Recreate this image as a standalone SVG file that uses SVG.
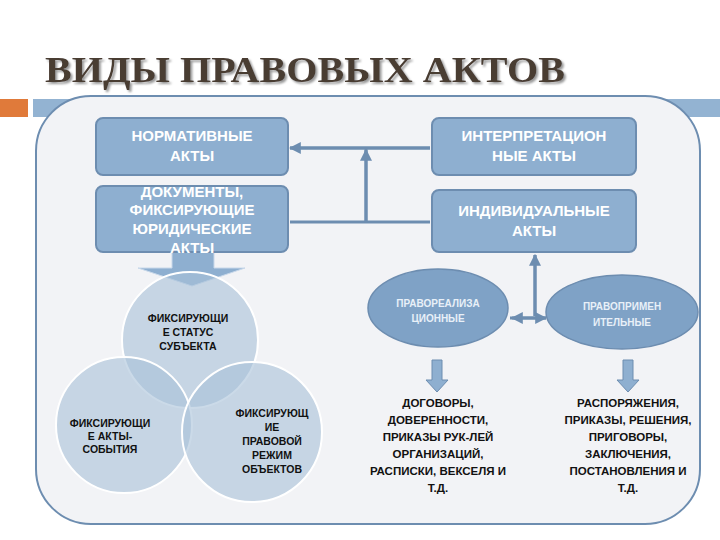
<svg xmlns="http://www.w3.org/2000/svg" width="720" height="540" viewBox="0 0 720 540">
<defs>
<style>
.box{fill:#8eafd0;stroke:#6d8db0;stroke-width:2}
.bt{font-family:"Liberation Sans",Arial,sans-serif;font-weight:bold;font-size:15px;fill:#fff;text-anchor:middle}
.ct{font-family:"Liberation Sans",Arial,sans-serif;font-weight:bold;font-size:10.5px;fill:#111;text-anchor:middle}
.lt{font-family:"Liberation Sans",Arial,sans-serif;font-weight:bold;font-size:11.5px;fill:#111;text-anchor:middle}
.et{font-family:"Liberation Sans",Arial,sans-serif;font-weight:bold;font-size:10px;fill:#e8f0f8;text-anchor:middle}
.circ{fill:#a9c1d9;fill-opacity:0.6;stroke:#fff;stroke-width:2}
.ln{stroke:#6d8db0;stroke-width:3;fill:none}
</style>
<filter id="sh" x="-5%" y="-20%" width="110%" height="140%"><feDropShadow dx="2" dy="2" stdDeviation="0.8" flood-color="#999"/></filter>
<marker id="ah" viewBox="0 0 10 10" refX="9" refY="5" markerWidth="4" markerHeight="4" orient="auto"><path d="M0,0L10,5L0,10z" fill="#6d8db0"/></marker>
</defs>
<text x="45" y="82" font-family="Liberation Serif,serif" font-weight="bold" font-size="36" fill="#4a3c33" textLength="520" lengthAdjust="spacingAndGlyphs" filter="url(#sh)">ВИДЫ ПРАВОВЫХ АКТОВ</text>
<rect x="0" y="99" width="28" height="18" fill="#e07a3a"/>
<rect x="33" y="99" width="687" height="18" fill="#93b3d2"/>
<rect x="36" y="96" width="664" height="428" rx="55" fill="#f2f3f6" stroke="#6d8db0" stroke-width="2"/>
<g id="connectors">
<path class="ln" d="M290,148H430M366,148V223M290,222H430M535,255V316M510,318H546" marker-end="url(#ah)"/>
<path class="ln" d="M430,148H290" marker-end="url(#ah)"/>
<path class="ln" d="M366,223V150" marker-end="url(#ah)"/>
<path class="ln" d="M535,316V255" marker-end="url(#ah)"/>
<path class="ln" d="M546,318H512" marker-end="url(#ah)"/>
<path d="M172,252H214V268H245L192,286L138,268H172Z" fill="#8eafd0" stroke="#c8d8ea"/>
<path d="M432,360H442V380H448L437,392L426,380H432Z" fill="#8eafd0" stroke="#6d8db0"/>
<path d="M623,360H633V380H639L628,392L617,380H623Z" fill="#8eafd0" stroke="#6d8db0"/>
</g>
<g id="n1"><rect class="box" x="96" y="118" width="192" height="57" rx="7"/><text class="bt" x="192" y="141">НОРМАТИВНЫЕ</text><text class="bt" x="192" y="161">АКТЫ</text></g>
<g id="n2"><rect class="box" x="96" y="186" width="192" height="66" rx="7"/><text class="bt" x="192" y="197">ДОКУМЕНТЫ,</text><text class="bt" x="192" y="215">ФИКСИРУЮЩИЕ</text><text class="bt" x="192" y="234">ЮРИДИЧЕСКИЕ</text><text class="bt" x="192" y="253">АКТЫ</text></g>
<g id="n3"><rect class="box" x="432" y="118" width="204" height="57" rx="7"/><text class="bt" x="534" y="141">ИНТЕРПРЕТАЦИОН</text><text class="bt" x="534" y="161">НЫЕ АКТЫ</text></g>
<g id="n4"><rect class="box" x="432" y="190" width="204" height="62" rx="7"/><text class="bt" x="534" y="216">ИНДИВИДУАЛЬНЫЕ</text><text class="bt" x="534" y="236">АКТЫ</text></g>
<g id="c1"><circle class="circ" cx="190" cy="340" r="68"/></g>
<g id="c2"><circle class="circ" cx="124" cy="425" r="68"/></g>
<g id="c3"><circle class="circ" cx="252" cy="432" r="70"/></g>
<text class="ct" x="188" y="322">ФИКСИРУЮЩИ</text><text class="ct" x="188" y="336">Е СТАТУС</text><text class="ct" x="188" y="350">СУБЪЕКТА</text>
<text class="ct" x="110" y="427">ФИКСИРУЮЩИ</text><text class="ct" x="110" y="440">Е АКТЫ-</text><text class="ct" x="110" y="453">СОБЫТИЯ</text>
<text class="ct" x="272" y="417">ФИКСИРУЮЩ</text><text class="ct" x="272" y="431">ИЕ</text><text class="ct" x="272" y="445">ПРАВОВОЙ</text><text class="ct" x="272" y="459">РЕЖИМ</text><text class="ct" x="272" y="473">ОБЪЕКТОВ</text>
<g id="e1"><ellipse cx="438" cy="308" rx="70" ry="39" fill="#7fa2c6" stroke="#6d8db0" stroke-width="1.5"/><text class="et" x="438" y="307">ПРАВОРЕАЛИЗА</text><text class="et" x="438" y="322">ЦИОННЫЕ</text></g>
<g id="e2"><ellipse cx="622" cy="312" rx="76" ry="37" fill="#7fa2c6" stroke="#6d8db0" stroke-width="1.5"/><text class="et" x="622" y="310">ПРАВОПРИМЕН</text><text class="et" x="622" y="326">ИТЕЛЬНЫЕ</text></g>
<g id="l1"><text class="lt" x="438" y="407">ДОГОВОРЫ,</text><text class="lt" x="438" y="424">ДОВЕРЕННОСТИ,</text><text class="lt" x="438" y="441">ПРИКАЗЫ РУК-ЛЕЙ</text><text class="lt" x="438" y="458">ОРГАНИЗАЦИЙ,</text><text class="lt" x="438" y="475">РАСПИСКИ, ВЕКСЕЛЯ И</text><text class="lt" x="438" y="492">Т.Д.</text></g>
<g id="l2"><text class="lt" x="628" y="407">РАСПОРЯЖЕНИЯ,</text><text class="lt" x="628" y="424">ПРИКАЗЫ, РЕШЕНИЯ,</text><text class="lt" x="628" y="441">ПРИГОВОРЫ,</text><text class="lt" x="628" y="458">ЗАКЛЮЧЕНИЯ,</text><text class="lt" x="628" y="475">ПОСТАНОВЛЕНИЯ И</text><text class="lt" x="628" y="492">Т.Д.</text></g>
</svg>
